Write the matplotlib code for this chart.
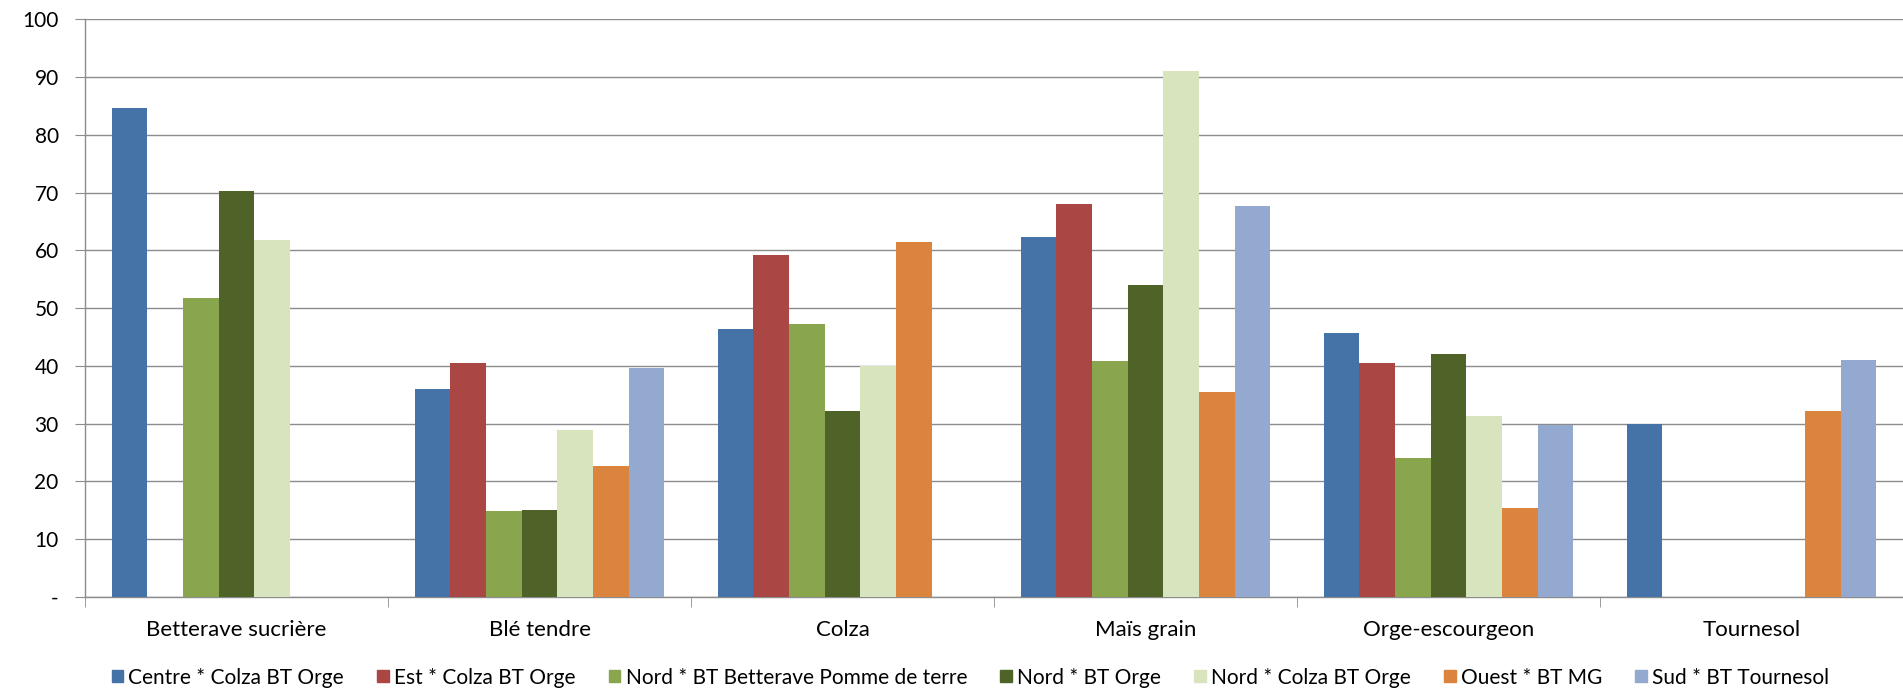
import numpy as np
import matplotlib
matplotlib.use("Agg")
import matplotlib.pyplot as plt
from matplotlib.patches import Patch

categories = ["Betterave sucrière", "Blé tendre", "Colza", "Maïs grain", "Orge-escourgeon", "Tournesol"]
series_names = ["Centre * Colza BT Orge", "Est * Colza BT Orge", "Nord * BT Betterave Pomme de terre",
                "Nord * BT Orge", "Nord * Colza BT Orge", "Ouest * BT MG", "Sud * BT Tournesol"]
nan = np.nan
centre = [84.6, 36.0, 46.4, 62.3, 45.6, 30.0]
est = [nan, 40.5, 59.2, 68.1, 40.5, nan]
nord_bett = [51.7, 14.8, 47.2, 40.8, 24.0, nan]
nord_orge = [70.3, 15.0, 32.2, 54.0, 42.0, nan]
nord_colza = [61.8, 28.9, 39.9, 91.0, 31.3, nan]
ouest = [nan, 22.6, 61.4, 35.4, 15.3, 32.2]
sud = [nan, 39.7, nan, 67.7, 29.8, 41.0]
series = [centre, est, nord_bett, nord_orge, nord_colza, ouest, sud]
colors = ["#4572A7", "#AA4643", "#89A54E", "#4F6228", "#D7E4BD", "#DB843D", "#93A9CF"]
yticks = [0, 10, 20, 30, 40, 50, 60, 70, 80, 90, 100]
ytick_labels = ["-", "10", "20", "30", "40", "50", "60", "70", "80", "90", "100"]

plt.rcParams['font.family'] = ['Lato', 'DejaVu Sans']
fig = plt.figure(figsize=(19.03, 6.90), dpi=100)
ax = fig.add_axes([0.0447, 0.135, 0.9553, 0.837])

n = len(series)
bw = 1 / 8.5
x = np.arange(len(categories))
for i, (vals, c) in enumerate(zip(series, colors)):
    offs = (i - (n - 1) / 2) * bw
    ax.bar(x + offs, vals, width=bw, color=c, zorder=3, label=series_names[i])

ax.set_xlim(-0.5, len(categories) - 0.5)
ax.set_ylim(0, 100)
ax.set_yticks(yticks)
ax.set_yticklabels(ytick_labels, fontsize=15)
ax.yaxis.grid(True, color="#8C8C8C", linewidth=1.0, zorder=0)
ax.set_axisbelow(True)
ax.tick_params(axis='y', length=7, color="#8C8C8C", pad=12)
ax.set_xticks(x)
ax.set_xticklabels(categories, fontsize=16)
ax.tick_params(axis='x', length=0, pad=17)
ax.set_xticks(np.arange(-0.5, len(categories), 1.0), minor=True)
ax.tick_params(axis='x', which='minor', length=7, color="#8C8C8C")
for s in ["top", "right"]:
    ax.spines[s].set_visible(False)
for s in ["left", "bottom"]:
    ax.spines[s].set_color("#8C8C8C")
    ax.spines[s].set_linewidth(1.0)

handles = [Patch(color=c) for c in colors]
fig.legend(handles, series_names, loc="center", bbox_to_anchor=(0.51, 0.018), ncol=7,
           frameon=False, fontsize=15, handlelength=0.55, handleheight=0.55,
           handletextpad=0.25, columnspacing=1.6)

fig.savefig("out.png", dpi=100)
